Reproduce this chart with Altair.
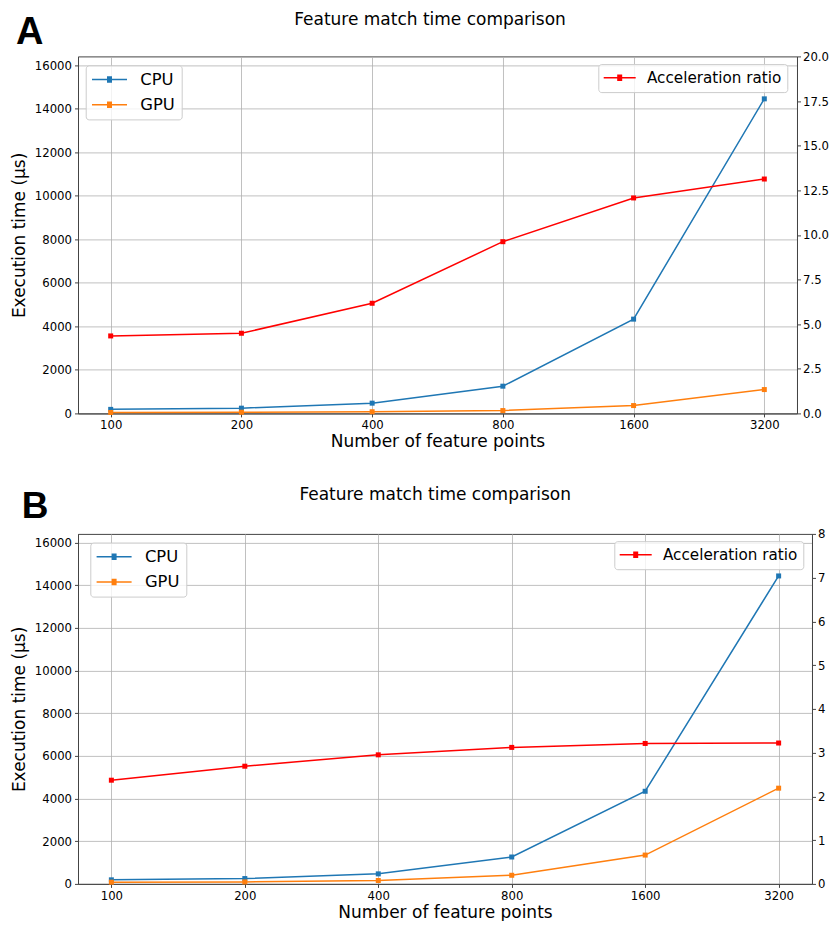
import altair as alt
import pandas as pd

# ---------------- data ----------------
points = ["100", "200", "400", "800", "1600", "3200"]

cpu_a = [185, 240, 470, 1250, 4330, 14450]
gpu_a = [43, 54, 76, 130, 360, 1095]
ratio_a = [4.34, 4.49, 6.17, 9.62, 12.07, 13.13]

cpu_b = [190, 250, 470, 1260, 4340, 14430]
gpu_b = [80, 93, 160, 404, 1350, 4485]
ratio_b = [2.37, 2.69, 2.95, 3.12, 3.21, 3.22]

series_names = ["CPU", "GPU"]
series_colors = ["#1f77b4", "#ff7f0e"]
ratio_name = "Acceleration ratio"
ratio_color = "#ff0000"

title_text = "Feature match time comparison"
x_title = "Number of feature points"
y_title = "Execution time (µs)"

left_ticks = [0, 2000, 4000, 6000, 8000, 10000, 12000, 14000, 16000]
right_ticks_a = [0, 2.5, 5, 7.5, 10, 12.5, 15, 17.5, 20]
right_ticks_b = [0, 1, 2, 3, 4, 5, 6, 7, 8]

FONT = "DejaVu Sans"

# legend symbols: a line with a small square marker (the square drawn with strokes)
PATH_CPU = "M-7,0H7M-1,-1H1M-1,-0.5H1M-1,0H1M-1,0.5H1M-1,1H1"
PATH_RATIO = "M-6.4,0H6.4M-1,-1H1M-1,-0.5H1M-1,0H1M-1,0.5H1M-1,1H1"

LEFT_EXTENT = 69


def panel(letter, letter_size, letter_xy, cpu, gpu, ratio, right_max, right_ticks, right_fmt,
          w, h, title_xy, cpu_legend_xy, ratio_legend_xy):
    times = pd.DataFrame({
        "points": points * 2,
        "series": [series_names[0]] * len(points) + [series_names[1]] * len(points),
        "time": cpu + gpu,
    })
    acc = pd.DataFrame({"points": points, "series": [ratio_name] * len(points), "ratio": ratio})

    x_enc = alt.X(
        "points:N", sort=points,
        scale=alt.Scale(type="point", padding=0.25),
        axis=alt.Axis(title=x_title, labelAngle=0, grid=True, tickSize=3.5,
                      labelPadding=3, titlePadding=2),
    )

    left = alt.Chart(times).mark_line(
        strokeWidth=1.5,
        point=alt.OverlayMarkDef(shape="square", size=25, filled=True, opacity=1),
    ).encode(
        x=x_enc,
        y=alt.Y("time:Q", scale=alt.Scale(domain=[0, 16400], nice=False, zero=True),
                axis=alt.Axis(title=y_title, values=left_ticks, format="d", grid=True,
                              orient="left", tickSize=3.5, labelPadding=3,
                              titleX=-49.5, titleY=h / 2)),
        color=alt.Color("series:N",
                        scale=alt.Scale(domain=series_names, range=series_colors),
                        legend=alt.Legend(
                            title=None, orient="none",
                            legendX=cpu_legend_xy[0], legendY=cpu_legend_xy[1],
                            symbolType=PATH_CPU, symbolSize=25, symbolStrokeWidth=1.5,
                            symbolOffset=9.6, labelOffset=22.6, labelFont=FONT,
                            labelFontSize=16.4, labelColor="black", padding=6,
                            rowPadding=8.1, fillColor="rgba(255,255,255,0.8)",
                            strokeColor="#cccccc", cornerRadius=3)),
    )

    right = alt.Chart(acc).mark_line(
        strokeWidth=1.5,
        point=alt.OverlayMarkDef(shape="square", size=25, filled=True, opacity=1),
    ).encode(
        x=x_enc,
        y=alt.Y("ratio:Q", scale=alt.Scale(domain=[0, right_max], nice=False, zero=True),
                axis=alt.Axis(title=None, values=right_ticks, format=right_fmt, grid=False,
                              orient="right", tickSize=3.5, labelPadding=2)),
        color=alt.Color("series:N",
                        scale=alt.Scale(domain=[ratio_name], range=[ratio_color]),
                        legend=alt.Legend(
                            title=None, orient="none",
                            legendX=ratio_legend_xy[0], legendY=ratio_legend_xy[1],
                            symbolType=PATH_RATIO, symbolSize=25, symbolStrokeWidth=1.5,
                            symbolOffset=7.8, labelOffset=19.7, labelFont=FONT,
                            labelFontSize=15.2, labelColor="black", padding=6,
                            fillColor="rgba(255,255,255,0.8)",
                            strokeColor="#cccccc", cornerRadius=3)),
    )

    letter_layer = alt.Chart(pd.DataFrame({"t": [letter]})).mark_text(
        font="Liberation Sans", fontWeight="bold", fontSize=letter_size,
        align="left", baseline="alphabetic", color="black",
    ).encode(text="t:N", x=alt.value(letter_xy[0]), y=alt.value(letter_xy[1]))

    title_layer = alt.Chart(pd.DataFrame({"t": [title_text]})).mark_text(
        font=FONT, fontSize=17, align="center", baseline="alphabetic", color="black",
    ).encode(text="t:N", x=alt.value(title_xy[0]), y=alt.value(title_xy[1]))

    # invisible anchor fixing how far the panel reaches to the left
    ghost = alt.Chart(pd.DataFrame({"t": ["."]})).mark_text(
        font=FONT, fontSize=10, align="left", baseline="middle", opacity=0,
    ).encode(text="t:N", x=alt.value(-LEFT_EXTENT), y=alt.value(h / 2))

    return alt.layer(left, right, letter_layer, title_layer, ghost).resolve_scale(
        y="independent", color="independent"
    ).properties(width=w, height=h)


panel_a = panel("A", 38, (-62, -12.6), cpu_a, gpu_a, ratio_a, 20, right_ticks_a, ".1f",
                719, 357, (352, -31), (7.7, 9), (520.3, 7.7))
panel_b = panel("B", 37, (-56.3, -16.3), cpu_b, gpu_b, ratio_b, 8, right_ticks_b, "d",
                734, 350, (357.2, -33.6), (12.3, 8.7), (536.3, 7.3))

chart = alt.vconcat(panel_a, panel_b, spacing=34.5).properties(
    padding={"left": 0, "top": 2.4, "right": 0, "bottom": 0}
).configure_view(
    stroke="#444444", strokeWidth=1
).configure_axis(
    labelFont=FONT, titleFont=FONT, labelFontSize=11.7, titleFontSize=17,
    labelColor="black", titleColor="black", titleFontWeight="normal",
    domainColor="#444444", tickColor="#444444", gridColor="#b0b0b0", gridWidth=0.8,
)

chart.save("out.html", embed_options={"renderer": "svg", "actions": False})
